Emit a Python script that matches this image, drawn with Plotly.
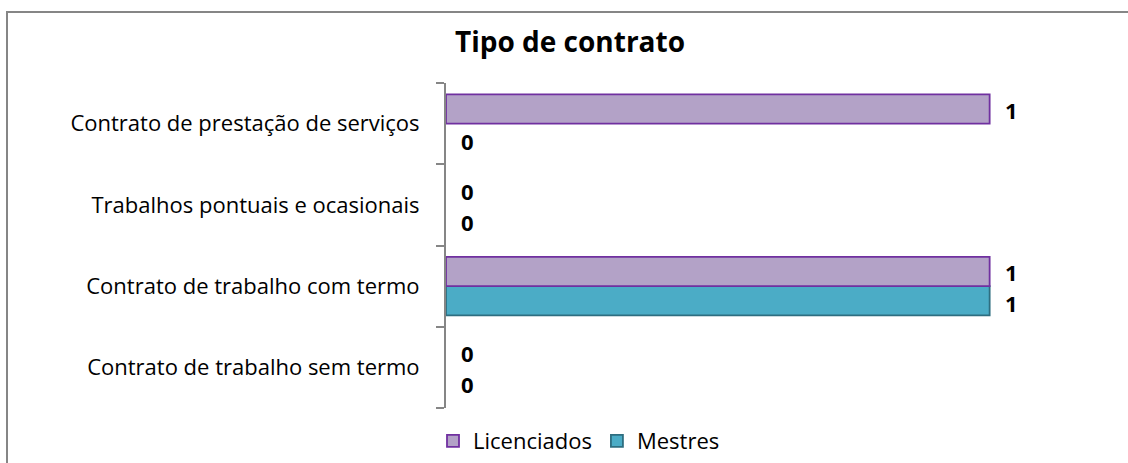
import plotly.graph_objects as go

# data (input order); display order given separately (bottom -> top)
categories = [
    "Contrato de trabalho com termo",
    "Contrato de prestação de serviços",
    "Trabalhos pontuais e ocasionais",
    "Contrato de trabalho sem termo",
]
licenciados = [1, 1, 0, 0]
mestres = [1, 0, 0, 0]
display_order = [
    "Contrato de trabalho sem termo",
    "Contrato de trabalho com termo",
    "Trabalhos pontuais e ocasionais",
    "Contrato de prestação de serviços",
]

W, H = 1128, 463
L, R, T, B = 446, 84, 83, 55
pw, ph = W - L - R, H - T - B
FONT = "Open Sans, sans-serif"

def px_x(x):
    return (x - L) / pw

def px_y(y):
    return (H - B - y) / ph

fig = go.Figure()
fig.add_trace(go.Bar(
    y=categories, x=mestres, orientation="h", name="Mestres",
    marker=dict(color="#4BACC6",
                line=dict(color="#2E6E80", width=[1.8 if v else 0 for v in mestres])),
    legendrank=2,
))
fig.add_trace(go.Bar(
    y=categories, x=licenciados, orientation="h", name="Licenciados",
    marker=dict(color="#B3A2C7",
                line=dict(color="#7030A0", width=[1.8 if v else 0 for v in licenciados])),
    legendrank=1,
))

lab_font = dict(family=FONT, size=22, color="black")
for cat, v in zip(categories, licenciados):
    fig.add_annotation(x=v, y=cat, text=f"<b>{v}</b>", showarrow=False,
                       xanchor="left", yanchor="middle", xshift=13, yshift=14,
                       font=lab_font)
for cat, v in zip(categories, mestres):
    fig.add_annotation(x=v, y=cat, text=f"<b>{v}</b>", showarrow=False,
                       xanchor="left", yanchor="middle", xshift=13, yshift=-17,
                       font=lab_font)

fig.add_shape(type="rect", xref="paper", yref="paper",
              x0=px_x(7), y0=px_y(480), x1=px_x(1150), y1=px_y(12),
              line=dict(color="#868686", width=2), fillcolor="rgba(0,0,0,0)",
              layer="below")

fig.update_layout(
    width=W, height=H,
    margin=dict(l=L, r=R, t=T, b=B, autoexpand=False),
    paper_bgcolor="white", plot_bgcolor="white",
    barmode="group", bargap=0.28, bargroupgap=0,
    title=dict(text="<b>Tipo de contrato</b>", x=570 / W, xanchor="center",
               y=1 - 42 / H, yanchor="middle",
               font=dict(family=FONT, size=28, color="black")),
    showlegend=True,
    legend=dict(orientation="h", x=px_x(579), xanchor="center",
                y=px_y(441), yanchor="middle",
                font=dict(family=FONT, size=22, color="black"),
                itemwidth=30, traceorder="normal", bgcolor="rgba(0,0,0,0)"),
    font=dict(family=FONT, size=22, color="black"),
)
fig.update_xaxes(range=[0, 1.1], visible=False, showgrid=False, zeroline=False)
fig.update_yaxes(categoryorder="array", categoryarray=display_order,
                 showline=True, linecolor="#868686", linewidth=2,
                 ticks="outside", tickson="boundaries", ticklen=8,
                 tickcolor="#868686", tickwidth=2,
                 ticklabelstandoff=20, showgrid=False,
                 tickfont=dict(family=FONT, size=22, color="black"))

fig.write_html("out.html", config={"displayModeBar": False},
               post_script="document.body.style.margin='0';")
